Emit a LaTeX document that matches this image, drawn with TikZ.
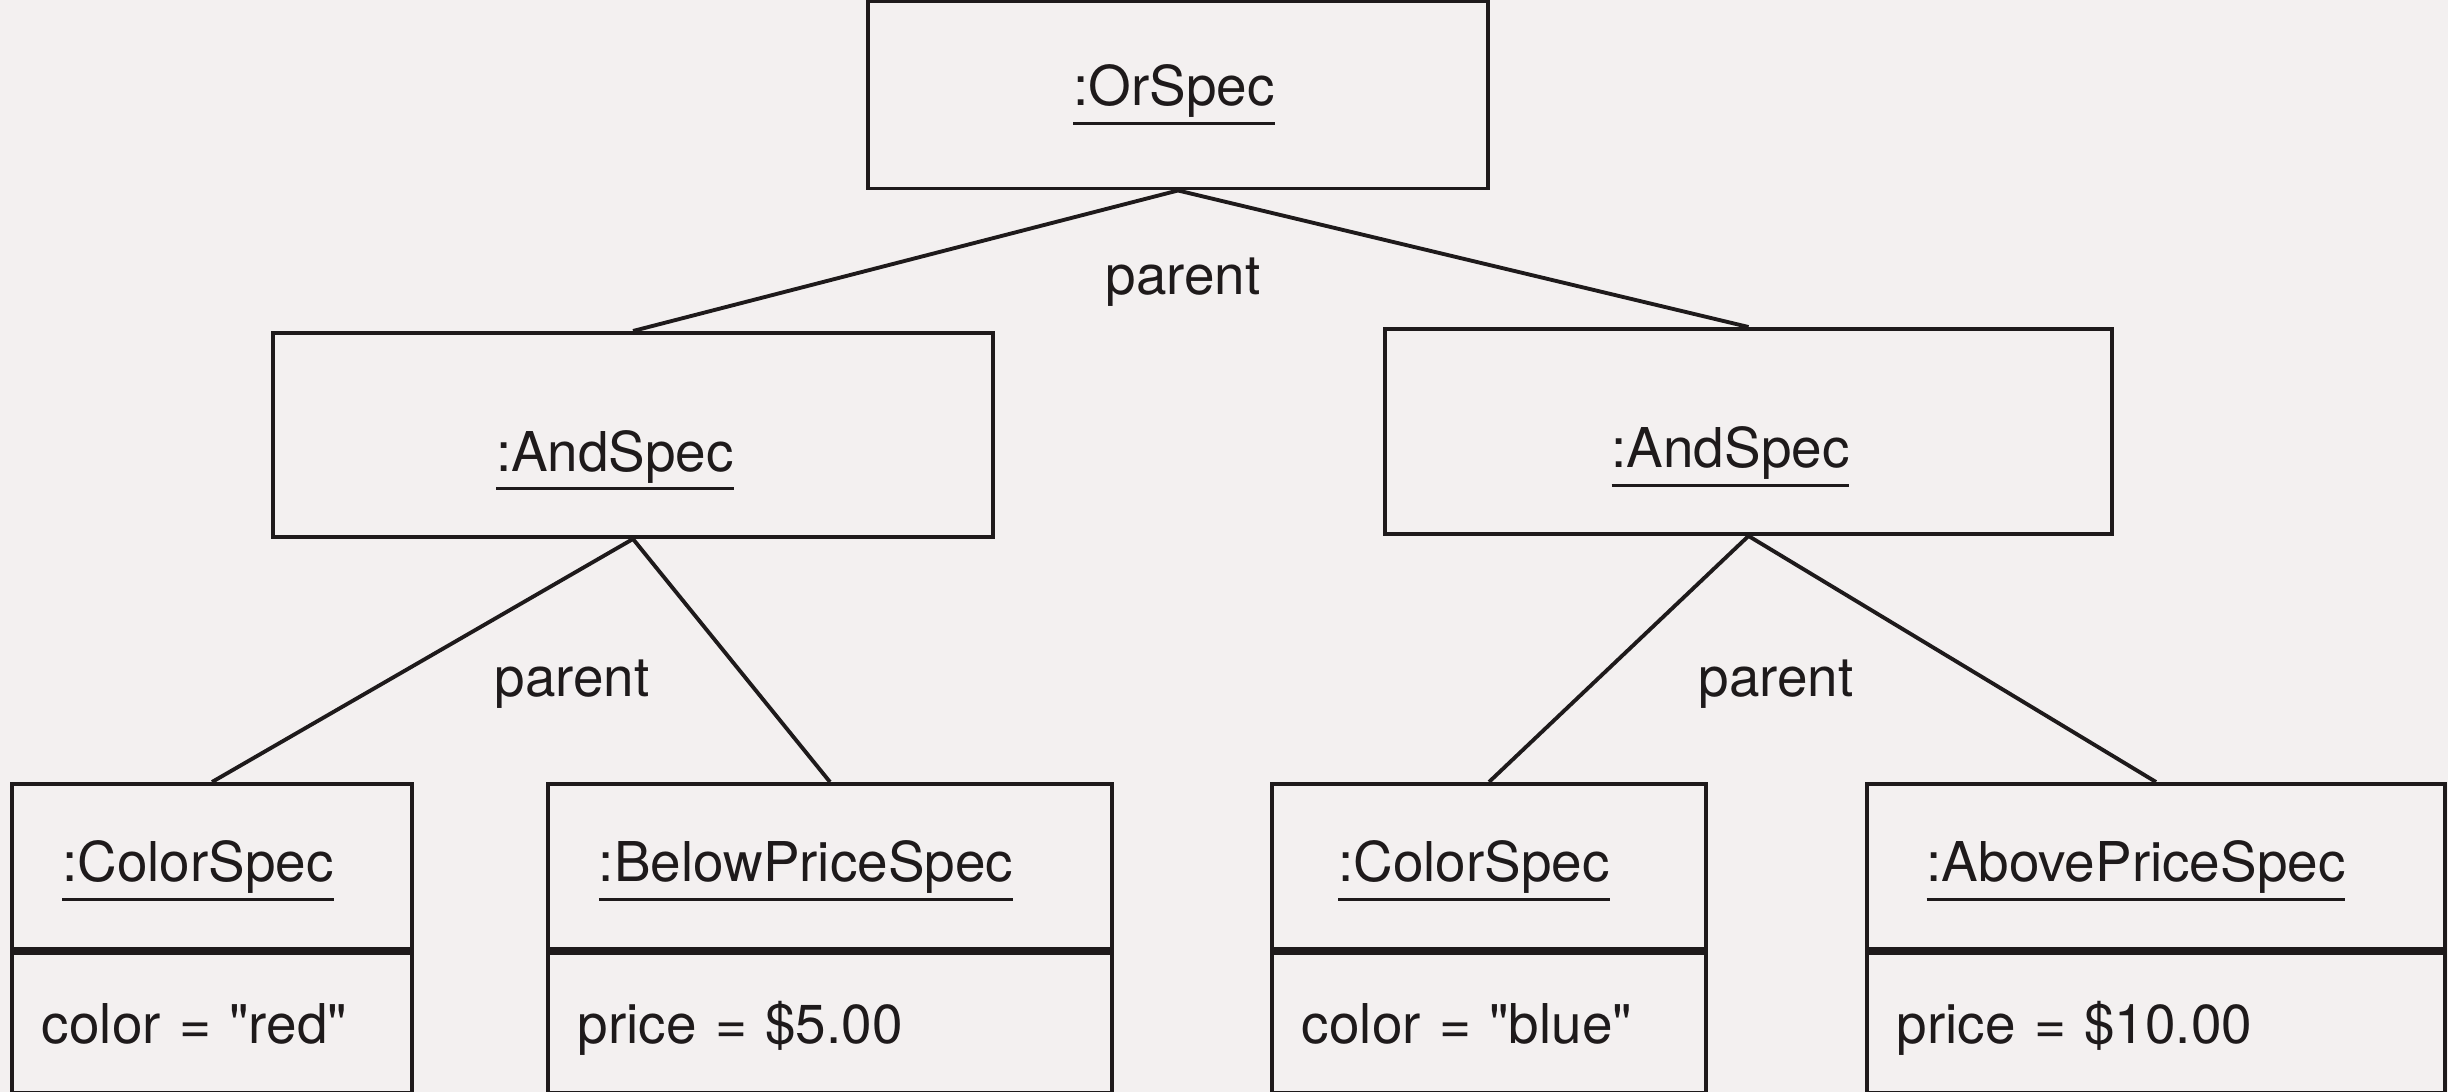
\documentclass[tikz,border=0pt]{standalone}
\usepackage{fontspec}
\setmainfont{TeX Gyre Heros}[Ligatures=TeXOff]
\definecolor{paper}{RGB}{243,240,240}
\definecolor{ink}{RGB}{30,26,27}
\newcommand\objname[2][0cm]{\leavevmode\vtop{\hbox{#2}\kern1.2pt\hrule height 0.9pt}\hspace*{#1}}
\begin{document}
\begin{tikzpicture}[x=0.01cm,y=-0.01cm,
  every node/.style={font=\fontsize{15.6}{18}\selectfont, text=ink},
  box/.style={draw=ink, line width=1.1pt, inner sep=0pt, text height=0.45cm, text depth=0.15cm},
  andbox/.style={box, text height=0.8cm, text depth=0.08cm},
  attr/.style={draw=ink, line width=1.1pt, inner xsep=0.3cm, inner ysep=0pt,
    minimum height=1.4cm, align=left, anchor=north, text height=0.45cm, text depth=0.03cm},
  link/.style={draw=ink, line width=1.1pt},
  lbl/.style={inner sep=0pt, anchor=base}]
\fill[paper] (0,0) rectangle (2448,1092);
\useasboundingbox (0,0) rectangle (2448,1092);

\node[box, minimum width=6.2cm, minimum height=1.87cm, text height=0.42cm, text depth=0.2cm] (or) at (1178,95) {\objname[0.08cm]{:OrSpec}};
\node[andbox, minimum width=7.2cm, minimum height=2.04cm] (and1) at (633,435) {\objname[0.36cm]{:AndSpec}};
\node[andbox, minimum width=7.27cm, minimum height=2.05cm] (and2) at (1748.5,431.5) {\objname[0.36cm]{:AndSpec}};

\node[box, minimum width=4.0cm, minimum height=1.65cm] (cs1) at (212,866.5) {\objname[0.28cm]{:ColorSpec}};
\node[box, minimum width=5.64cm, minimum height=1.65cm] (bp) at (830,866.5) {\objname[0.48cm]{:BelowPriceSpec}};
\node[box, minimum width=4.34cm, minimum height=1.65cm] (cs2) at (1489,866.5) {\objname[0.3cm]{:ColorSpec}};
\node[box, minimum width=5.78cm, minimum height=1.65cm] (ap) at (2156,866.5) {\objname[0.4cm]{:AbovePriceSpec}};

\node[attr, text width=3.4cm] (cs1a) at (cs1.south) {color = "red"};
\node[attr, text width=5.04cm] (bpa) at (bp.south) {price = \$5.00};
\node[attr, text width=3.74cm] (cs2a) at (cs2.south) {color = "blue"};
\node[attr, text width=5.18cm] (apa) at (ap.south) {price = \$10.00};

\draw[link] (or.south) -- (and1.north);
\draw[link] (or.south) -- (and2.north);
\draw[link] (and1.south) -- (cs1.north);
\draw[link] (and1.south) -- (bp.north);
\draw[link] (and2.south) -- (cs2.north);
\draw[link] (and2.south) -- (ap.north);

\node[lbl] (p0) at (1183,295) {parent};
\node[lbl] (p1) at (572,697) {parent};
\node[lbl] (p2) at (1776,697) {parent};
\end{tikzpicture}
\end{document}
